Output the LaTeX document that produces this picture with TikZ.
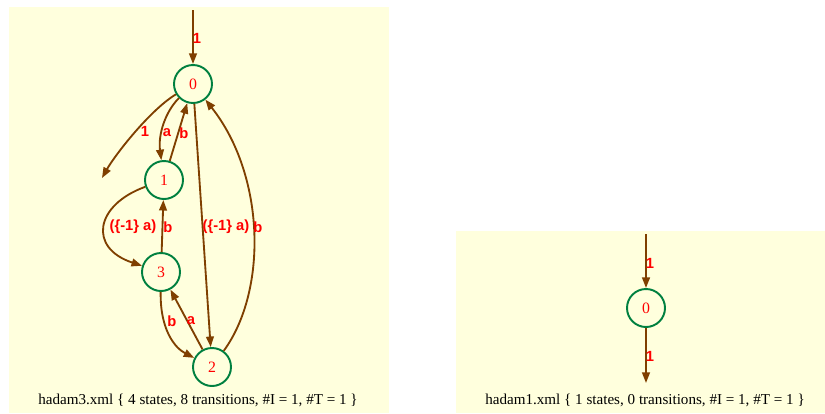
\documentclass[tikz,border=0pt]{standalone}
\usepackage{fontspec}
\setmainfont{Liberation Serif}
\newfontfamily\labfont{Liberation Sans}
\usetikzlibrary{arrows.meta}
\definecolor{paper}{RGB}{255,255,221}
\definecolor{edgebrown}{RGB}{127,63,0}
\definecolor{stategreen}{RGB}{0,128,64}

\begin{document}
\begin{tikzpicture}[x=0.02cm,y=-0.02cm,
    st/.style={circle,draw=stategreen,line width=1.1pt,minimum size=38*0.02cm,inner sep=0pt,text=red,font=\fontsize{9}{10}\selectfont},
    tr/.style={draw=edgebrown,line width=1.05pt,-{Triangle[length=6pt,width=4.4pt]}},
    lab/.style={text=red,font=\labfont\bfseries\fontsize{8.4}{9}\selectfont,inner sep=0pt},
    legend/.style={font=\fontsize{8.6}{10}\selectfont,inner sep=0pt}]
    \useasboundingbox (0,0) rectangle (825,413);
    \fill[paper] (9,7) rectangle (389,413);
    \fill[paper] (456,231) rectangle (825,413);

    % hadam3
    \coordinate (i3) at (193,10);
    \coordinate (f3) at (102,178);
    \node[st] (q0) at (193,84) {0};
    \node[st] (q1) at (164,180) {1};
    \node[st] (q3) at (161,272) {3};
    \node[st] (q2) at (212,367) {2};
    \draw[tr] (i3) -- (q0) node[lab] at (197,38) {1};
    \draw[tr] (q0) .. controls (150,110) and (115,155) .. (f3) node[lab] at (145,131) {1};
    \draw[tr] (q0) .. controls (165,112) and (158,135) .. (q1) node[lab] at (167,133) {a};
    \draw[tr] (q1) -- (q0) node[lab] at (184,133) {b};
    \draw[tr] (q1) .. controls (95,205) and (88,248) .. (q3) node[lab] at (133,227) {(\{-1\} a)};
    \draw[tr] (q3) -- (q1) node[lab] at (168,227) {b};
    \draw[tr] (q0) -- (q2) node[lab] at (226,227) {(\{-1\} a)};
    \draw[tr] (q2) .. controls (268,290) and (265,175) .. (q0) node[lab] at (258,227) {b};
    \draw[tr] (q3) .. controls (160,330) and (175,348) .. (q2) node[lab] at (172,321) {b};
    \draw[tr] (q2) -- (q3) node[lab] at (191,321) {a};
    \node[legend] (t3) at (198,400) {hadam3.xml \{ 4 states, 8 transitions, \#I = 1, \#T = 1 \}};

    % hadam1
    \coordinate (i1) at (646,234);
    \coordinate (f1) at (646,383);
    \node[st] (p0) at (646,308) {0};
    \draw[tr] (i1) -- (p0) node[lab] at (650,263) {1};
    \draw[tr] (p0) -- (f1) node[lab] at (650,356) {1};
    \node[legend] (t1) at (645,400) {hadam1.xml \{ 1 states, 0 transitions, \#I = 1, \#T = 1 \}};
\end{tikzpicture}
\end{document}
